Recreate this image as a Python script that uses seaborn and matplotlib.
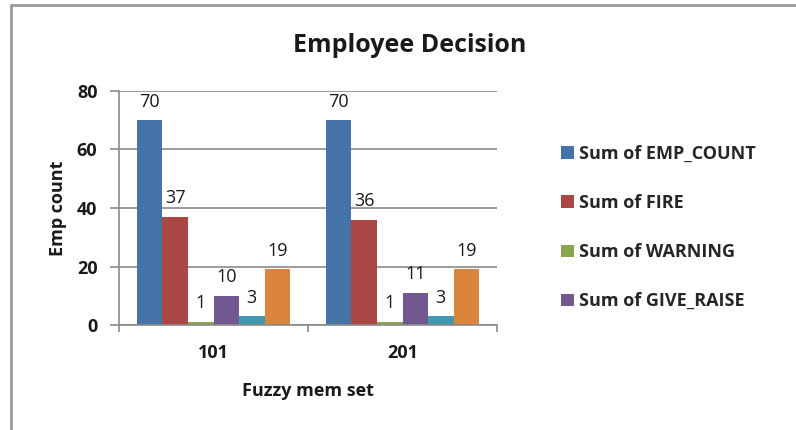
import pandas as pd
import matplotlib.pyplot as plt
from matplotlib.lines import Line2D
import seaborn as sns

sets = ["101", "201"]
series = ["Sum of EMP_COUNT", "Sum of FIRE", "Sum of WARNING",
          "Sum of GIVE_RAISE", "Sum of SERIES5", "Sum of SERIES6"]
emp_count = [70, 70]
fire = [37, 36]
warning = [1, 1]
give_raise = [10, 11]
series5 = [3, 3]
series6 = [19, 19]
colors = ["#4572A7", "#AA4643", "#89A54E", "#71588F", "#4198AF", "#DB843D"]
shown_in_legend = 4

values = [emp_count, fire, warning, give_raise, series5, series6]
df = pd.DataFrame([(s, name, v) for name, vals in zip(series, values)
                   for s, v in zip(sets, vals)],
                  columns=["set", "series", "value"])

sns.set_theme(style="white")
plt.rcParams["font.family"] = ["Open Sans", "DejaVu Sans"]
txt = "#1a1a1a"
grid = "#8a8a8a"

fig = plt.figure(figsize=(7.96, 4.30), dpi=100)
ax = fig.add_axes([119 / 796, 1 - 325 / 430, 378 / 796, 234 / 430])

sns.barplot(data=df, x="set", y="value", hue="series", order=sets,
            hue_order=series, palette=colors, width=0.81, saturation=1,
            edgecolor="none", ax=ax)

for c in ax.containers:
    ax.bar_label(c, fmt="%d", padding=7, fontsize=13, color=txt)

ax.set_xlim(-0.5, 1.5)
ax.set_ylim(0, 80)
ax.set_yticks([0, 20, 40, 60, 80])
ax.yaxis.grid(True, color=grid, linewidth=1.2)
ax.set_axisbelow(True)
for side in ["top", "right"]:
    ax.spines[side].set_visible(False)
for side in ["left", "bottom"]:
    ax.spines[side].set_color(grid)
    ax.spines[side].set_linewidth(1.2)

ax.tick_params(axis="y", direction="out", length=6.5, width=1.2, color=grid,
               left=True, pad=9, labelsize=13, labelcolor=txt)
ax.set_xticks([-0.5, 0.5, 1.5], minor=True)
ax.tick_params(axis="x", which="minor", direction="out", length=5, width=1.2,
               color=grid, bottom=True)
ax.tick_params(axis="x", which="major", length=0, pad=14, labelsize=13,
               labelcolor=txt)
for lab in ax.get_xticklabels() + ax.get_yticklabels():
    lab.set_fontweight("bold")

ax.set_xlabel("Fuzzy mem set", fontsize=13, fontweight="bold", color=txt,
              labelpad=14)
ax.set_ylabel("Emp count", fontsize=13, fontweight="bold", color=txt,
              labelpad=7)

fig.text(410 / 796, 1 - 45 / 430, "Employee Decision", ha="center",
         va="center", fontsize=18, fontweight="bold", color=txt)

handles, labels = ax.get_legend_handles_labels()
ax.legend_.remove()
fig.legend(handles[:shown_in_legend], labels[:shown_in_legend],
           loc="upper left", bbox_to_anchor=(552 / 796, 1 - 136 / 430),
           frameon=False, labelspacing=1.72, handlelength=0.7,
           handleheight=0.7, handletextpad=0.28, borderpad=0,
           prop={"weight": "bold", "size": 13})

# chart area border (left and top edges visible)
fig.add_artist(Line2D([11 / 796, 11 / 796], [0, 1 - 5 / 430],
                      transform=fig.transFigure, color="#9a9a9a", lw=2))
fig.add_artist(Line2D([11 / 796, 1], [1 - 5 / 430, 1 - 5 / 430],
                      transform=fig.transFigure, color="#9a9a9a", lw=2))

fig.savefig("out.png", dpi=100)
